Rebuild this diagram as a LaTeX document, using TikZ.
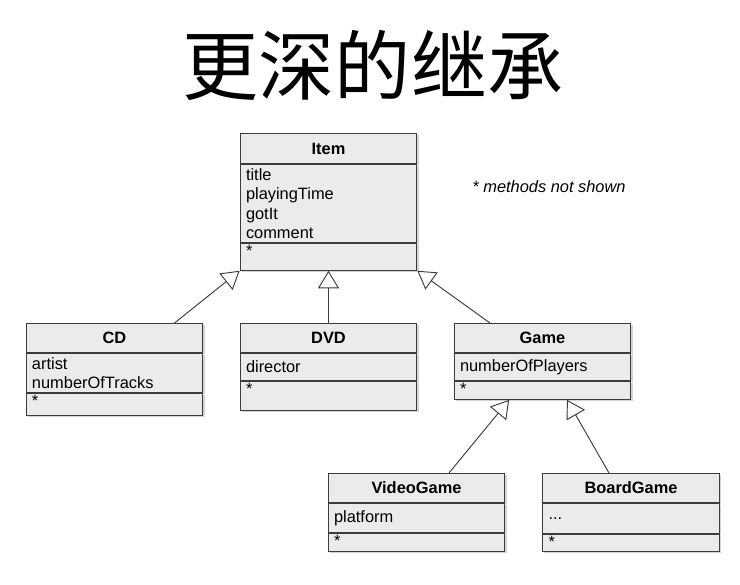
\documentclass[tikz,border=0pt]{standalone}
\usepackage{fontspec}
\setmainfont{Liberation Sans}
\newfontfamily\cjkfont{Noto Sans CJK SC}
\usetikzlibrary{arrows.meta, positioning, shadows}
\definecolor{umlfill}{HTML}{EBEBEB}
\definecolor{umlline}{HTML}{3C3C3C}

\begin{document}
\begin{tikzpicture}[
  x=0.03cm, y=-0.03cm,
  classname/.style={rectangle, draw=umlline, fill=umlfill, line width=0.8pt,
                    minimum width=5.3cm, minimum height=0.87cm, inner sep=1pt,
                    font=\bfseries\fontsize{14}{16.6}\selectfont,
                    drop shadow={shadow xshift=1.5pt, shadow yshift=-1.5pt, opacity=0.35}},
  members/.style={classname, font=\fontsize{14}{16.6}\selectfont, text width=4.95cm,
                  inner xsep=5pt, align=left, minimum height=#1},
  methods/.style={members=0pt, text height=10pt, text depth=#1},
  inherit/.style={draw=umlline, line width=0.8pt,
                  -{Triangle[open, length=15pt, width=18pt]}},
]
  \useasboundingbox (0,0) rectangle (740,584);

  \node[font=\cjkfont\fontsize{65}{70}\selectfont] (title) at (373,65) {更深的继承};
  \node[font=\itshape\fontsize{14}{16.6}\selectfont] (note) at (549,187) {* methods not shown};

  % superclass
  \node[classname, minimum height=0.9cm, anchor=north] (item) at (328.5,133) {Item};
  \node[members=2.34cm, below=0pt of item] (itemattr) {title\\playingTime\\gotIt\\comment};
  \node[methods=11pt, below=0pt of itemattr] (itemops) {*};

  % first level
  \node[classname, anchor=north] (cd) at (114.5,323) {CD};
  \node[members=1.17cm, below=0pt of cd] (cdattr) {artist\\numberOfTracks};
  \node[methods=6.8pt, below=0pt of cdattr] (cdops) {*};

  \node[classname, anchor=north] (dvd) at (328.5,323) {DVD};
  \node[members=0.81cm, below=0pt of dvd] (dvdattr) {director};
  \node[methods=12.75pt, below=0pt of dvdattr] (dvdops) {*};

  \node[classname, anchor=north] (game) at (542.5,323) {Game};
  \node[members=0.81cm, below=0pt of game] (gameattr) {numberOfPlayers};
  \node[methods=3.4pt, below=0pt of gameattr] (gameops) {*};

  % second level
  \node[classname, anchor=north] (videogame) at (416.5,473) {VideoGame};
  \node[members=0.87cm, below=0pt of videogame] (videogameattr) {platform};
  \node[methods=3.4pt, below=0pt of videogameattr] (videogameops) {*};

  \node[classname, anchor=north] (boardgame) at (631,473) {BoardGame};
  \node[members=0.9cm, below=0pt of boardgame] (boardgameattr) {...};
  \node[methods=2.5pt, below=0pt of boardgameattr] (boardgameops) {*};

  % generalisation arrows
  \draw[inherit] ([xshift=1.8cm]cd.north) -- (itemops.south west);
  \draw[inherit] (dvd.north) -- (itemops.south);
  \draw[inherit] ([xshift=-1.575cm]game.north) -- (itemops.south east);
  \draw[inherit] ([xshift=0.975cm]videogame.north) -- ([xshift=-1cm]gameops.south);
  \draw[inherit] ([xshift=-0.66cm]boardgame.north) -- ([xshift=0.735cm]gameops.south);
\end{tikzpicture}
\end{document}
